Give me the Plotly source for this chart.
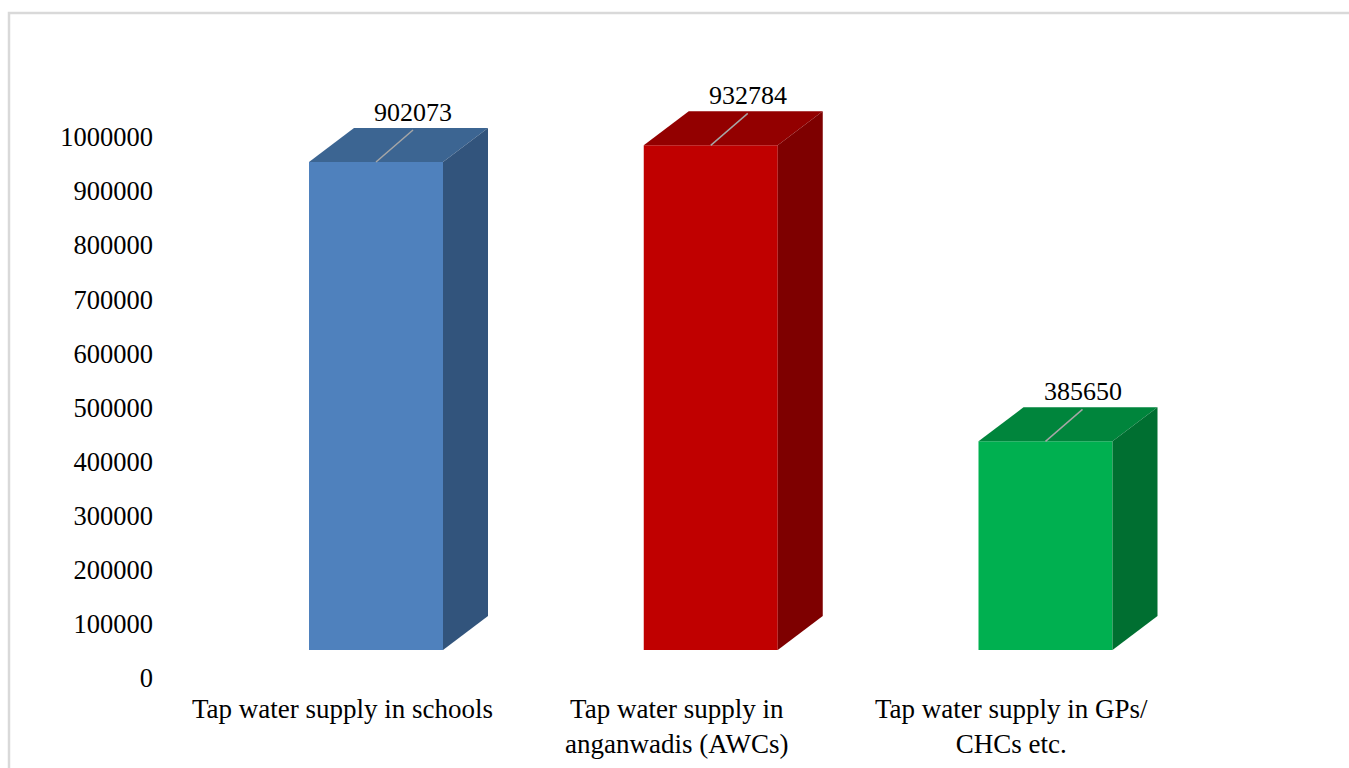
import plotly.graph_objects as go

categories = ["Tap water supply in schools",
              "Tap water supply in<br>anganwadis (AWCs)",
              "Tap water supply in GPs/<br>CHCs etc."]
values = [902073, 932784, 385650]
front_colors = ["#4F81BD", "#C00000", "#00B050"]
top_colors = ["#3C6592", "#930000", "#00853C"]
side_colors = ["#32547C", "#7E0000", "#006F31"]
tick_vals = list(range(0, 1000001, 100000))

W, H = 1349, 768
ML = 154
# pixel scale helpers (derived from axis ranges)
x_range = [(ML - 376) / 334.75, (W - 376) / 334.75]
y_px_per_unit = 541e-6
y_range = [-(H - 678) / y_px_per_unit, 678 / y_px_per_unit]

bar_w = 134 / 334.75
floor_off = 28 / y_px_per_unit
depth_x = 45 / 334.75
depth_y = 34 / y_px_per_unit
lead_x = 37 / 334.75
lead_y = 32 / y_px_per_unit
label_dx = -34 / 334.75

fig = go.Figure()
xs = list(range(len(values)))

fig.add_trace(go.Bar(x=xs, y=values, base=[floor_off] * len(values), width=bar_w,
                     marker=dict(color=front_colors, line=dict(width=0)),
                     hoverinfo="skip", showlegend=False))

for i, v in enumerate(values):
    xl, xr = i - bar_w / 2, i + bar_w / 2
    top = floor_off + v
    fig.add_trace(go.Scatter(
        x=[xl, xr, xr + depth_x, xl + depth_x, xl],
        y=[top, top, top + depth_y, top + depth_y, top],
        fill="toself", fillcolor=top_colors[i], mode="lines",
        line=dict(width=0, color=top_colors[i]), hoverinfo="skip", showlegend=False))
    fig.add_trace(go.Scatter(
        x=[xr, xr, xr + depth_x, xr + depth_x, xr],
        y=[floor_off, top, top + depth_y, floor_off + depth_y, floor_off],
        fill="toself", fillcolor=side_colors[i], mode="lines",
        line=dict(width=0, color=side_colors[i]), hoverinfo="skip", showlegend=False))
    fig.add_trace(go.Scatter(
        x=[i, i + lead_x], y=[top, top + lead_y], mode="lines",
        line=dict(width=1.5, color="#A6A6A6"), hoverinfo="skip", showlegend=False))
    fig.add_annotation(x=i + lead_x, y=top + lead_y, text=str(v), showarrow=False,
                       xanchor="center", yanchor="bottom", yshift=1,
                       font=dict(family="Liberation Serif", size=26, color="black"))
    fig.add_annotation(x=i + label_dx, y=(H - 692) / (H), xref="x", yref="paper",
                       text=categories[i], showarrow=False, xanchor="center", yanchor="top",
                       align="center",
                       font=dict(family="Liberation Serif", size=27, color="black"))

fig.update_layout(
    width=W, height=H,
    margin=dict(l=ML, r=0, t=0, b=0),
    paper_bgcolor="white", plot_bgcolor="white",
    xaxis=dict(range=x_range, visible=False, fixedrange=True),
    yaxis=dict(range=y_range, tickvals=tick_vals, ticktext=[str(t) for t in tick_vals],
               showgrid=False, zeroline=False, showline=False, ticks="",
               tickfont=dict(family="Liberation Serif", size=26.5, color="black"),
               fixedrange=True),
    shapes=[dict(type="rect", xref="paper", yref="paper",
                 x0=-(ML - 9) / (W - ML), x1=1.05, y0=-0.1, y1=(H - 13) / H,
                 line=dict(color="#D9D9D9", width=2.5), layer="below")],
    showlegend=False,
)

fig.write_html("out.html")
